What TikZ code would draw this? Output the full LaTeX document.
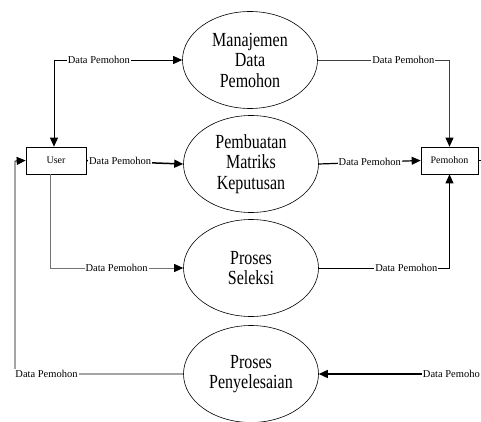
\documentclass[tikz,border=0pt]{standalone}
\usepackage{fontspec}
\setmainfont{Liberation Serif}
\newfontfamily\condfont[FakeStretch=0.8]{Liberation Serif}
\usetikzlibrary{shapes.geometric,arrows.meta}
\begin{document}
\begin{tikzpicture}[x=1pt,y=-1pt,
  proc/.style={ellipse,draw,line width=0.6pt,minimum width=135pt,minimum height=97pt,inner sep=0pt,
    align=center,font=\condfont\fontsize{20}{20.5}\selectfont},
  ent/.style={rectangle,draw,line width=0.7pt,minimum width=60pt,minimum height=27pt,inner sep=0pt,
    font=\fontsize{10}{12}\selectfont},
  tip/.style={-{Triangle[length=9pt,width=8pt,color=black]}},
  flow/.style={line width=0.8pt,tip},
  lbl/.style={fill=white,inner sep=1pt,text=black,font=\fontsize{10.5}{12}\selectfont}]
\useasboundingbox (0,0) rectangle (481,422);
% processes
\node[proc] (e1) at (250,60) {Manajemen\\Data\\Pemohon};
\node[proc] (e2) at (251,164) {Pembuatan\\Matriks\\Keputusan};
\node[proc] (e3) at (251,268) {Proses\\Seleksi};
\node[proc] (e4) at (251,374) {Proses\\Penyelesaian};
% entities
\node[ent] (user) at (56,160.5) {User};
\node[ent,minimum width=57pt] (pem) at (449.5,160.5) {Pemohon};
\coordinate (c7) at (15,161);
% flows
\draw[line width=0.8pt,{Triangle[length=9pt,width=8pt]}-{Triangle[length=9pt,width=8pt]}]
  ([xshift=-2pt]user.north) |- (e1.west) node[lbl,pos=0.675] {Data Pemohon};
\draw[flow,black!75] (e1.east) -| (pem.north) node[lbl,pos=0.325] {Data Pemohon};
\draw[flow,line width=1.5pt] (user.east) -- (e2.west) node[lbl,pos=0,anchor=west,xshift=1pt] {Data Pemohon};
\draw[flow,line width=1.2pt] (e2.east) -- (pem.west) node[lbl,midway] {Data Pemohon};
\draw[flow,black!55] ([xshift=-6pt]user.south) |- (e3.west) node[lbl,pos=0.75] {Data Pemohon};
\draw[flow] (e3.east) -| (pem.south) node[lbl,pos=0.335] {Data Pemohon};
\draw[flow,line width=0.9pt] (e4.west) -| (c7) node[lbl,pos=0.5,anchor=west,xshift=-1pt] {Data Pemohon} -- (user.west);
\node[lbl,anchor=east] (l8) at (481,374) {Data Pemoho};
\draw[flow,line width=1.5pt] (l8.west) -- (e4.east);
\draw[line width=0.6pt] (pem.east) -- ++(4,0);
\end{tikzpicture}
\end{document}
